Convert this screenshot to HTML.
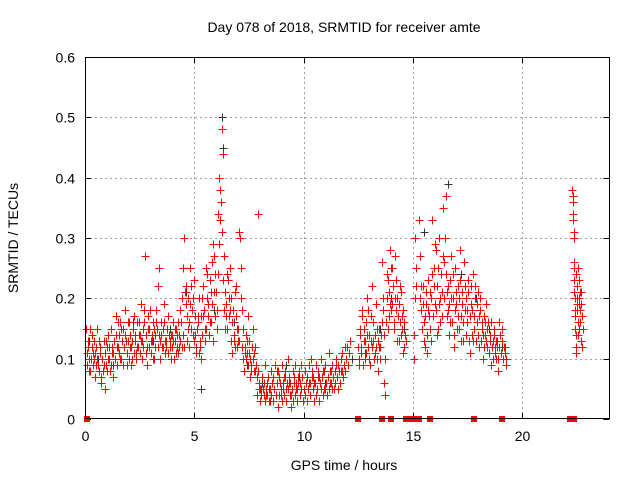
<!DOCTYPE html>
<html><head><meta charset="utf-8"><style>
html,body{margin:0;padding:0;background:#fff;}
svg{display:block;font-family:"Liberation Sans",sans-serif;}
</style></head><body>
<svg id="chart" width="640" height="480" viewBox="0 0 640 480">
<text x="344" y="32" font-size="14" text-anchor="middle" fill="#000">Day 078 of 2018, SRMTID for receiver amte</text>
<g id="grid"></g>
<g id="ticks"></g>
<g id="black"></g>
<g id="red"></g>
<g id="gaps"></g>
<rect x="85.5" y="57.5" width="524" height="361" fill="none" stroke="#000" stroke-width="1"/>
<text x="344" y="470" font-size="14" text-anchor="middle">GPS time / hours</text>
<text transform="translate(18,238) rotate(-90)" font-size="14" text-anchor="middle">SRMTID / TECUs</text>
</svg>
<script>
const xTicks=[0,5,10,15,20];
const yTicks=[0,0.1,0.2,0.3,0.4,0.5,0.6];
const yTickLabels=["0","0.1","0.2","0.3","0.4","0.5","0.6"];
const earlyHours=[0.05,0.1,0.15,0.2,0.25,0.3,0.35,0.4,0.45,0.5,0.55,0.6,0.65,0.7,0.75,0.8,0.85,0.9,0.95,1.0,1.05,1.1,1.15,1.2,1.25,1.3,1.35,1.4,1.45,1.5,1.55,1.6,1.65,1.7,1.75,1.8,1.85,1.9,1.95,2.0,2.05,2.1,2.15,2.2,2.25,2.3,2.35,2.4,2.45,2.5,2.55,2.6,2.65,2.7,2.75,2.8,2.85,2.9,2.95,3.0,3.05,3.1,3.15,3.2,3.25,3.3,3.35,3.4,3.45,3.5,3.55,3.6,3.65,3.7,3.75,3.8,3.85,3.9,3.95,4.0,4.05,4.1,4.15,4.2,4.25,4.3,4.35,4.4,4.45,4.5,4.55,4.6,4.65,4.7,4.75,4.8,4.85,4.9,4.95,5.0,5.05,5.1,5.15,5.2,5.25,5.3,5.35,5.4,5.45,5.5,5.55,5.6,5.65,5.7,5.75,5.8,5.85,5.9,5.95,6.0,6.05,6.1,6.15,6.2,6.25,6.3,6.35,6.4,6.45,6.5,6.55,6.6,6.65,6.7,6.75,6.8,6.85,6.9,6.95,7.0,7.05,7.1,7.15,7.2,7.25,7.3,7.35,7.4,7.45,7.5,7.55,7.6,7.65,7.7,7.75,7.8,7.85,7.9,7.95,8.0,8.05,8.1,8.15,8.2,8.25,8.3,8.35,8.4,8.45,8.5,8.55,8.6,8.65,8.7,8.75,8.8,8.85,8.9,8.95,9.0,9.05,9.1,9.15,9.2,9.25,9.3,9.35,9.4,9.45,9.5,9.55,9.6,9.65,9.7,9.75,9.8,9.85,9.9,9.95,10.0,10.05,10.1,10.15,10.2,10.25,10.3,10.35,10.4,10.45,10.5,10.55,10.6,10.65,10.7,10.75,10.8,10.85,10.9,10.95,11.0,11.05,11.1,11.15,11.2,11.25,11.3,11.35,11.4,11.45,11.5,11.55,11.6,11.65,11.7,11.75,11.8,11.85,11.9,11.95,12.0,12.05,12.1,12.15,12.2,12.25,12.3,12.35,12.4];
const earlyA=[0.15,0.09,0.12,0.1,0.08,0.14,0.11,0.1,0.07,0.12,0.15,0.09,0.08,0.11,0.06,0.1,0.13,0.05,0.09,0.12,0.14,0.1,0.08,0.15,0.12,0.11,0.13,0.17,0.09,0.12,0.14,0.16,0.1,0.13,0.15,0.12,0.18,0.09,0.13,0.16,0.14,0.12,0.1,0.15,0.17,0.13,0.11,0.12,0.16,0.14,0.19,0.13,0.15,0.18,0.27,0.14,0.12,0.17,0.15,0.13,0.14,0.16,0.1,0.12,0.18,0.15,0.22,0.25,0.13,0.14,0.12,0.16,0.11,0.13,0.15,0.17,0.14,0.12,0.1,0.14,0.16,0.13,0.15,0.12,0.11,0.14,0.18,0.16,0.2,0.25,0.3,0.22,0.17,0.15,0.16,0.19,0.22,0.18,0.2,0.23,0.14,0.12,0.16,0.11,0.13,0.17,0.2,0.22,0.18,0.15,0.25,0.24,0.19,0.16,0.21,0.26,0.29,0.27,0.24,0.21,0.18,0.34,0.4,0.38,0.48,0.44,0.27,0.21,0.19,0.24,0.23,0.17,0.18,0.2,0.16,0.14,0.21,0.22,0.15,0.13,0.31,0.3,0.25,0.18,0.15,0.12,0.14,0.11,0.17,0.13,0.1,0.09,0.12,0.15,0.11,0.08,0.07,0.34,0.06,0.05,0.04,0.07,0.05,0.06,0.09,0.04,0.06,0.03,0.05,0.08,0.06,0.07,0.05,0.09,0.04,0.06,0.08,0.07,0.05,0.09,0.06,0.07,0.08,0.05,0.06,0.1,0.07,0.06,0.04,0.08,0.07,0.09,0.06,0.05,0.07,0.08,0.06,0.09,0.07,0.05,0.08,0.06,0.07,0.05,0.09,0.06,0.1,0.08,0.07,0.06,0.09,0.05,0.08,0.07,0.06,0.1,0.07,0.08,0.05,0.09,0.06,0.07,0.11,0.08,0.06,0.09,0.07,0.05,0.08,0.1,0.07,0.09,0.06,0.08,0.11,0.07,0.09,0.08,0.1,0.12,0.09,0.11,0.13];
const earlyB=[0.11,0.13,0.08,0.15,0.1,0.12,0.09,0.13,0.11,0.09,0.1,0.13,0.12,0.07,0.1,0.08,0.09,0.11,0.13,0.08,0.1,0.12,0.09,0.11,0.07,0.13,0.1,0.14,0.12,0.16,0.11,0.1,0.15,0.09,0.12,0.14,0.13,0.11,0.16,0.1,0.12,0.09,0.13,0.11,0.14,0.1,0.16,0.12,0.14,0.11,0.13,0.1,0.12,0.16,0.11,0.09,0.15,0.12,0.18,0.11,0.13,0.1,0.15,0.14,0.16,0.12,0.14,0.1,0.16,0.12,0.15,0.19,0.13,0.12,0.15,0.11,0.13,0.14,0.12,0.13,0.1,0.15,0.11,0.14,0.16,0.12,0.13,0.12,0.14,0.12,0.21,0.19,0.13,0.2,0.12,0.25,0.15,0.14,0.13,0.17,0.11,0.15,0.17,0.2,0.12,0.1,0.14,0.17,0.13,0.15,0.2,0.17,0.14,0.23,0.16,0.19,0.13,0.21,0.17,0.15,0.24,0.29,0.33,0.36,0.31,0.23,0.18,0.15,0.17,0.15,0.2,0.25,0.13,0.11,0.18,0.13,0.12,0.17,0.12,0.15,0.13,0.2,0.12,0.1,0.08,0.11,0.1,0.13,0.09,0.11,0.07,0.08,0.1,0.08,0.12,0.09,0.04,0.08,0.05,0.03,0.05,0.07,0.04,0.03,0.05,0.04,0.07,0.05,0.03,0.04,0.06,0.03,0.05,0.04,0.08,0.02,0.04,0.06,0.04,0.03,0.05,0.04,0.07,0.03,0.05,0.06,0.04,0.02,0.05,0.03,0.06,0.04,0.05,0.03,0.06,0.04,0.05,0.07,0.03,0.05,0.04,0.06,0.03,0.05,0.06,0.04,0.07,0.05,0.03,0.06,0.04,0.05,0.07,0.03,0.06,0.05,0.04,0.08,0.05,0.06,0.04,0.07,0.05,0.06,0.08,0.05,0.07,0.06,0.09,0.07,0.05,0.08,0.06,0.1,0.08,0.07,0.09,0.12];
const lateHours=[12.5,12.55,12.6,12.65,12.7,12.75,12.8,12.85,12.9,12.95,13.0,13.05,13.1,13.15,13.2,13.25,13.3,13.35,13.4,13.45,13.5,13.55,13.6,13.65,13.7,13.75,13.8,13.85,13.9,13.95,14.0,14.05,14.1,14.15,14.2,14.25,14.3,14.35,14.4,14.45,14.5,14.55,14.6,14.65,15.05,15.1,15.15,15.3,15.35,15.4,15.45,15.5,15.55,15.6,15.65,15.7,15.75,15.8,15.85,15.9,15.95,16.0,16.05,16.1,16.15,16.2,16.25,16.3,16.35,16.4,16.45,16.5,16.55,16.6,16.65,16.7,16.75,16.8,16.85,16.9,16.95,17.0,17.05,17.1,17.15,17.2,17.25,17.3,17.35,17.4,17.45,17.5,17.55,17.6,17.65,17.7,17.75,17.8,17.85,17.9,17.95,18.0,18.05,18.1,18.15,18.2,18.25,18.3,18.35,18.4,18.45,18.5,18.55,18.6,18.65,18.7,18.75,18.8,18.85,18.9,18.95,19.0,19.05,19.1,19.15,19.2,19.25,22.3,22.32,22.34,22.36,22.38,22.4,22.42,22.44,22.46,22.48,22.5,22.52,22.55,22.58,22.6,22.62,22.65,22.7,22.72,22.75];
const lateA=[0.12,0.09,0.15,0.11,0.18,0.13,0.1,0.16,0.2,0.12,0.14,0.09,0.17,0.22,0.13,0.11,0.19,0.15,0.08,0.12,0.1,0.14,0.26,0.18,0.06,0.04,0.2,0.23,0.17,0.28,0.25,0.19,0.22,0.15,0.27,0.18,0.2,0.13,0.16,0.21,0.15,0.18,0.12,0.14,0.1,0.3,0.22,0.33,0.2,0.18,0.22,0.16,0.12,0.19,0.14,0.23,0.17,0.21,0.13,0.33,0.25,0.19,0.28,0.22,0.15,0.3,0.2,0.24,0.17,0.35,0.26,0.37,0.21,0.18,0.14,0.23,0.27,0.16,0.2,0.12,0.25,0.19,0.22,0.15,0.28,0.17,0.21,0.13,0.26,0.18,0.2,0.16,0.23,0.11,0.19,0.14,0.24,0.17,0.2,0.13,0.16,0.21,0.12,0.18,0.15,0.1,0.17,0.14,0.19,0.12,0.16,0.11,0.14,0.09,0.13,0.15,0.12,0.1,0.13,0.08,0.16,0.14,0.11,0.15,0.1,0.12,0.09,0.38,0.36,0.33,0.3,0.25,0.21,0.18,0.15,0.11,0.24,0.19,0.22,0.16,0.14,0.2,0.23,0.18,0.21,0.13,0.17];
const lateB=[0.1,0.14,0.12,0.17,0.09,0.15,0.13,0.11,0.14,0.18,0.1,0.13,0.12,0.16,0.1,0.14,0.12,0.1,0.13,0.15,0.12,0.16,0.2,0.14,0.1,0.16,0.24,0.15,0.21,0.19,0.18,0.25,0.16,0.2,0.23,0.13,0.17,0.19,0.22,0.14,0.17,0.11,0.16,0.13,0.14,0.2,0.25,0.27,0.22,0.15,0.19,0.13,0.17,0.21,0.11,0.18,0.15,0.2,0.24,0.17,0.22,0.29,0.18,0.14,0.25,0.19,0.16,0.21,0.27,0.2,0.3,0.24,0.17,0.22,0.19,0.16,0.2,0.24,0.14,0.18,0.21,0.15,0.17,0.2,0.23,0.13,0.19,0.16,0.22,0.14,0.18,0.21,0.13,0.17,0.22,0.18,0.13,0.15,0.22,0.19,0.14,0.17,0.2,0.13,0.16,0.14,0.12,0.16,0.13,0.15,0.11,0.13,0.16,0.12,0.1,0.14,0.11,0.13,0.12,0.1,0.12,0.11,0.13,0.1,0.12,0.11,0.1,0.37,0.34,0.31,0.26,0.23,0.2,0.17,0.14,0.12,0.22,0.18,0.2,0.25,0.15,0.19,0.21,0.16,0.19,0.12,0.15];
const blackT=[0.2,0.6,1.3,2.2,3.1,3.9,4.6,5.3,5.9,6.25,6.3,6.8,7.4,8.1,8.6,9.2,9.8,10.4,11.0,11.6,12.2,12.8,13.5,14.0,14.6,15.5,16.1,16.6,17.2,17.9,18.5,19.1,22.35];
const blackV=[0.13,0.1,0.09,0.16,0.13,0.15,0.21,0.05,0.18,0.5,0.45,0.16,0.09,0.06,0.07,0.09,0.07,0.08,0.06,0.09,0.1,0.11,0.15,0.2,0.15,0.31,0.22,0.39,0.24,0.2,0.15,0.12,0.36];
const gapT=[0.1,12.5,13.6,14.0,14.7,14.9,15.1,15.3,15.8,17.8,19.1,22.2,22.4];
const NS='http://www.w3.org/2000/svg';
const X0=85,X1=609.4,Y0=419,Y1=57;
function sx(t){return X0+(t/24)*(X1-X0);}
function sy(v){return Y0-(v/0.6)*(Y0-Y1);}
function mk(tag,attrs,parent){const e=document.createElementNS(NS,tag);for(const k in attrs)e.setAttribute(k,attrs[k]);parent.appendChild(e);return e;}
const grid=document.getElementById('grid'),ticks=document.getElementById('ticks');
xTicks.forEach(t=>{
 const x=Math.round(sx(t))+0.5;
 if(t>0){const g=mk('line',{x1:x,y1:Y1,x2:x,y2:Y0,stroke:'#a0a0a0','stroke-dasharray':'2,3'},grid);
 
 }
 mk('line',{x1:x,y1:Y0,x2:x,y2:Y0-6,stroke:'#000'},ticks);
 mk('line',{x1:x,y1:Y1,x2:x,y2:Y1+6,stroke:'#000'},ticks);
 const l=mk('text',{x:x,y:Y0+22,'font-size':14,'text-anchor':'middle'},ticks);
 l.textContent=String(t);
 
 
});
yTicks.forEach((v,i)=>{
 const y=Math.round(sy(v))+0.5;
 if(i>0&&i<yTicks.length-1){const g=mk('line',{x1:X0,y1:y,x2:X1,y2:y,stroke:'#a0a0a0','stroke-dasharray':'2,3'},grid);
 
 }
 mk('line',{x1:X0,y1:y,x2:X0+6,y2:y,stroke:'#000'},ticks);
 mk('line',{x1:X1,y1:y,x2:X1-6,y2:y,stroke:'#000'},ticks);
 const l=mk('text',{x:X0-10,y:y+5,'font-size':14,'text-anchor':'end'},ticks);
 l.textContent=yTickLabels[i];
 
 
});
function plus(t,v,col,g){
 const x=Math.round(sx(t))+0.5,y=Math.round(sy(v))+0.5;
 const p=mk('path',{d:`M${x-4} ${y}H${x+4}M${x} ${y-4}V${y+4}`,stroke:col,'stroke-width':1,fill:'none'},g);
 
 
}
const bl=document.getElementById('black'),rd=document.getElementById('red'),gp=document.getElementById('gaps');
blackT.forEach((t,i)=>plus(t,blackV[i],'#333',bl));
earlyHours.forEach((t,i)=>{
 plus(t,earlyA[i],'#ff0000',rd);
 plus(t+0.02,earlyB[i],'#ff0000',rd);
});
lateHours.forEach((t,i)=>{
 plus(t,lateA[i],'#ff0000',rd);
 plus(t+0.02,lateB[i],'#ff0000',rd);
});
gapT.forEach(t=>{
 const r=mk('rect',{x:Math.round(sx(t))-3,y:Y0-3,width:6,height:6,fill:'#ff0000'},gp);
 
 
});
</script>
</body></html>
